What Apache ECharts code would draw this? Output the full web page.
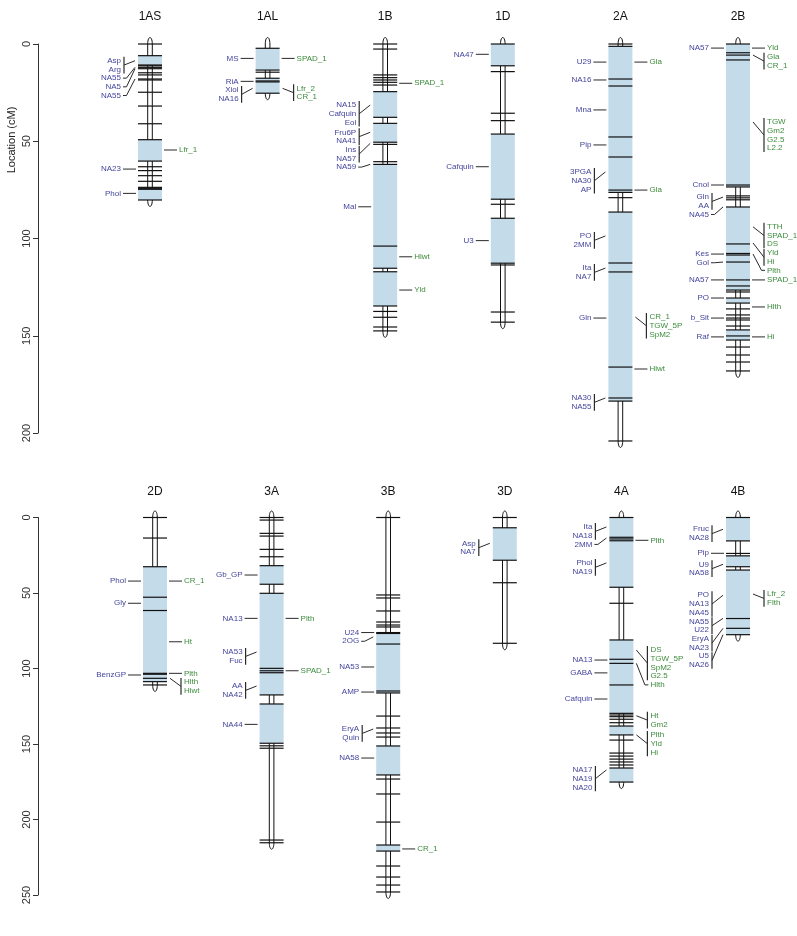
<!DOCTYPE html>
<html><head><meta charset="utf-8">
<script src="https://cdn.jsdelivr.net/npm/echarts/dist/echarts.min.js"></script>
<style>html,body{margin:0;padding:0;background:#fff}#c{width:797px;height:936px}</style>
</head><body><div id="c"></div>
<script>
// ---------- DATA ----------
const CHR_TOP = ['1AS','1AL','1B','1D','2A','2B'];
const CHR_BOT = ['2D','3A','3B','3D','4A','4B'];
const TICKS_TOP = [0,50,100,150,200];
const TICKS_BOT = [0,50,100,150,200,250];

// markers (cM), highlighted blocks [start,end], left labels [pos, names...], right labels
const m_1AS = [0,6.0,10.8,11.2,12.0,12.7,14.8,15.9,18.0,18.5,24.8,31.9,41.0,49.2,60.2,63.1,65.1,67.7,70.6,73.7,74.2,74.7,80.2];
const b_1AS = [[6.0,10.8],[49.2,60.2],[74.2,80.2]];
const l_1AS = [[8.6,'Asp','Arg'],[12.0,'NA55'],[12.7,'NA5'],[18.0,'NA55'],[64.3,'NA23'],[76.8,'Phol']];
const r_1AS = [[54.5,'Lfr_1']];

const m_1AL = [2.2,13.4,14.5,17.6,19.0,19.5,25.3];
const b_1AL = [[2.2,13.4],[17.6,25.3]];
const l_1AL = [[7.4,'MS'],[19.2,'RiA'],[22.8,'Xiol','NA16']];
const r_1AL = [[7.4,'SPAD_1'],[22.8,'Lfr_2','CR_1']];

const m_1B = [0,2.6,15.9,17.3,18.5,19.7,21.1,24.5,37.7,40.8,50.5,51.6,60.5,61.9,103.9,115.3,117.1,134.7,137.5,140.5,145.5,147.5];
const b_1B = [[24.5,37.7],[40.8,50.5],[61.9,115.3],[117.1,134.7]];
const l_1B = [[31.4,'NA15','Cafquin','Eol'],[45.4,'Fru6P','NA41'],[51.1,'Ins','NA57'],[61.9,'NA59'],[83.7,'Mal']];
const r_1B = [[20.2,'SPAD_1'],[109.4,'Hlwt'],[126.5,'Yld']];

const m_1D = [0,11.2,14.2,35.6,39.4,46.3,79.8,82.4,89.6,112.7,113.6,137.8,143.0];
const b_1D = [[0,11.2],[46.3,79.8],[89.6,112.7]];
const l_1D = [[5.3,'NA47'],[63.1,'Cafquin'],[101.1,'U3']];
const r_1D = [];

const m_2A = [0,1.2,18.0,21.6,47.8,58.1,75.1,76.3,79.0,86.4,112.6,117.2,166.1,182.0,183.6,204.1];
const b_2A = [[1.2,76.3],[86.4,183.6]];
const l_2A = [[9.3,'U29'],[18.5,'NA16'],[33.9,'Mna'],[51.9,'Pip'],[65.8,'3PGA','NA30','AP'],[98.7,'PO','2MM'],[115.2,'Ita','NA7'],[140.9,'Gln'],[182.0,'NA30','NA55']];
const r_2A = [[9.3,'Gla'],[75.1,'Gla'],[140.4,'CR_1','TGW_5P','SpM2'],[167.1,'Hlwt']];

const m_2B = [0,4.5,5.7,8.2,72.5,73.5,78.1,79.1,80.1,83.8,102.8,107.7,108.5,112.1,121.3,124.4,126.5,127.5,130.6,133.2,136.2,139.3,140.9,141.9,145.0,147.0,150.1,152.2,155.8,159.9,163.5,168.1];
const b_2B = [[0,73.5],[83.8,126.5],[130.6,133.2],[147.0,152.2]];
const l_2B = [[2.1,'NA57'],[72.5,'Cnol'],[78.7,'Gln','AA'],[83.8,'NA45'],[108,'Kes'],[112.1,'Gol'],[121.3,'NA57'],[130.6,'PO'],[140.9,'b_Sit'],[150.6,'Raf']];
const r_2B = [[2.1,'Yld'],[5.7,'Gla','CR_1'],[40.1,'TGW','Gm2','G2.5','L2.2'],[94.0,'TTH','SPAD_1','DS'],[102.3,'Yld','Hi'],[108,'Plth'],[121.3,'SPAD_1'],[135.2,'Hlth'],[150.6,'Hi']];

const m_2D = [0,13.6,32.6,52.8,61.6,103.2,103.8,106.5,108.7,110.9];
const b_2D = [[32.6,108.7]];
const l_2D = [[42.1,'Phol'],[56.8,'Gly'],[104.3,'BenzGP']];
const r_2D = [[42.1,'CR_1'],[82.3,'Ht'],[103.2,'Plth'],[106.5,'Hlth','Hlwt']];

const m_3A = [0,1.7,10.5,12.3,21.1,26.0,31.9,44.2,50.2,99.9,101.5,102.8,117.5,123.5,149.5,151.2,152.8,213.6,215.4];
const b_3A = [[31.9,44.2],[50.2,117.5],[123.5,149.5]];
const l_3A = [[38.1,'Gb_GP'],[66.8,'NA13'],[89.1,'NA53','Fuc'],[111.6,'AA','NA42'],[137.0,'NA44']];
const r_3A = [[66.8,'Plth'],[101.5,'SPAD_1']];

const m_3B = [0,51.3,53.3,61.9,69.2,71.2,72.5,76.2,76.8,83.8,114.9,116.2,131.5,139.4,142.7,145.4,151.3,170.5,173.2,183.1,201.7,216.9,220.9,230.8,238.1,243.4,248.0];
const b_3B = [[76.2,116.2],[151.3,170.5],[216.9,220.9]];
const l_3B = [[76.2,'U24'],[79.1,'2OG'],[99.0,'NA53'],[115.6,'AMP'],[140.1,'EryA','Quin'],[159.3,'NA58']];
const r_3B = [[219.5,'CR_1']];

const m_3D = [0,6.8,28.3,43.2,83.3];
const b_3D = [[6.8,28.3]];
const l_3D = [[17.1,'Asp','NA7']];
const r_3D = [];

const m_4A = [0,13.1,14.2,15.4,46.2,56.8,81.1,93.9,96.6,110.9,129.7,130.8,131.9,133.6,135.9,138.1,144.0,147.4,156.0,158.0,160.0,161.9,163.9,165.9,175.2];
const b_4A = [[0,46.2],[81.1,129.7],[138.1,144.0],[165.9,175.2]];
const l_4A = [[6.3,'Ita','NA18'],[13.6,'2MM'],[30.1,'Phol','NA19'],[94.4,'NA13'],[102.9,'GABA'],[120.2,'Cafquin'],[167.2,'NA17','NA19','NA20']];
const r_4A = [[15.1,'Plth'],[87.8,'DS','TGW_5P','SpM2','G2.5'],[96.6,'Hlth'],[131.3,'Ht','Gm2'],[144.0,'Plth','Yld','Hi']];

const m_4B = [0,15.5,23.8,25.4,32.6,34.8,66.9,73.4,77.6];
const b_4B = [[0,15.5],[25.4,32.6],[34.8,77.6]];
const l_4B = [[7.8,'Fruc','NA28'],[23.7,'Pip'],[31.0,'U9','NA58'],[51.5,'PO','NA13','NA45'],[66.8,'NA55','U22'],[73.4,'EryA','NA23'],[77.6,'U5','NA26']];
const r_4B = [[50.7,'Lfr_2','Flth']];

// ---------- BUILD ----------
const SRC = {
  '1AS':[m_1AS,b_1AS,l_1AS,r_1AS],'1AL':[m_1AL,b_1AL,l_1AL,r_1AL],'1B':[m_1B,b_1B,l_1B,r_1B],
  '1D':[m_1D,b_1D,l_1D,r_1D],'2A':[m_2A,b_2A,l_2A,r_2A],'2B':[m_2B,b_2B,l_2B,r_2B],
  '2D':[m_2D,b_2D,l_2D,r_2D],'3A':[m_3A,b_3A,l_3A,r_3A],'3B':[m_3B,b_3B,l_3B,r_3B],
  '3D':[m_3D,b_3D,l_3D,r_3D],'4A':[m_4A,b_4A,l_4A,r_4A],'4B':[m_4B,b_4B,l_4B,r_4B]
};
function chrList(names){
  return names.map(n => { const s = SRC[n]; return {name:n, markers:s[0], boxes:s[1], left:s[2], right:s[3], len:Math.max.apply(null,s[0])}; });
}
const TOP = chrList(CHR_TOP), BOT = chrList(CHR_BOT);

const LH = 8.7, FONT = '8px "Liberation Sans", Arial, sans-serif';
const COL_L = '#45459d', COL_R = '#3d8c3d', BOXC = '#c4dbea', INK = '#111', PTR = '#2a2a2a';

function makeRender(list){
  return function(params, api){
    const i = params.dataIndex, c = list[i];
    const cx = api.coord([i, 0])[0];
    const Y = v => api.coord([i, v])[1];
    const kids = [];
    const hw = 2.3, cap = 6.5;
    const y0 = Y(0), y1 = Y(c.len);
    const p = `M${cx-hw} ${y0} C${cx-hw} ${y0-cap*0.7} ${cx-1} ${y0-cap} ${cx} ${y0-cap} C${cx+1} ${y0-cap} ${cx+hw} ${y0-cap*0.7} ${cx+hw} ${y0} L${cx+hw} ${y1} C${cx+hw} ${y1+cap*0.7} ${cx+1} ${y1+cap} ${cx} ${y1+cap} C${cx-1} ${y1+cap} ${cx-hw} ${y1+cap*0.7} ${cx-hw} ${y1} Z`;
    kids.push({type:'path', shape:{pathData:p}, style:{fill:'#fff', stroke:INK, lineWidth:1}});
    c.boxes.forEach(bx => kids.push({type:'rect', shape:{x:cx-12, y:Y(bx[0]), width:24, height:Y(bx[1])-Y(bx[0])}, style:{fill:BOXC}}));
    c.markers.forEach(m => { const y = Y(m); kids.push({type:'line', shape:{x1:cx-12,y1:y,x2:cx+12,y2:y}, style:{stroke:INK, lineWidth:1.2}}); });
    [[c.left,-1,COL_L],[c.right,1,COL_R]].forEach(side => {
      const groups = side[0], s = side[1], col = side[2];
      let prev = -Infinity;
      groups.slice().sort((a,b)=>a[0]-b[0]).forEach(g => {
        const my = Y(g[0]); const names = g.slice(1);
        const first = Math.max(my, prev + LH);
        const ys = names.map((n,k)=> first + k*LH);
        prev = ys[ys.length-1];
        names.forEach((n,k) => kids.push({type:'text', style:{text:n, x:cx+s*29, y:ys[k], align:s<0?'right':'left', textAlign:s<0?'right':'left', verticalAlign:'middle', textVerticalAlign:'middle', fill:col, font:FONT}}));
        if (names.length === 1){
          const ty = ys[0];
          const pts = Math.abs(ty-my) < 0.6 ? [[cx+s*27,ty],[cx+s*14,my]] : [[cx+s*27,ty],[cx+s*23.5,ty],[cx+s*15,my]];
          kids.push({type:'polyline', shape:{points:pts}, style:{stroke:PTR, lineWidth:1, fill:null}});
        } else {
          const bxx = cx + s*26;
          kids.push({type:'line', shape:{x1:bxx,y1:ys[0]-4,x2:bxx,y2:ys[ys.length-1]+4}, style:{stroke:PTR, lineWidth:1.2}});
          const mid = (ys[0]+ys[ys.length-1])/2;
          kids.push({type:'line', shape:{x1:bxx,y1:mid,x2:cx+s*15,y2:my}, style:{stroke:PTR, lineWidth:1}});
        }
      });
    });
    return {type:'group', children:kids};
  };
}

function yAx(gi, max, offset){
  return {type:'value', gridIndex:gi, inverse:true, min:0, max:max, interval:50, position:'left', offset:offset,
    axisLine:{show:true, lineStyle:{color:'#333', width:1}}, axisTick:{show:true, length:5, lineStyle:{color:'#333'}},
    axisLabel:{rotate:90, margin:6, fontSize:11, color:'#333', fontFamily:'"Liberation Sans", Arial, sans-serif'},
    splitLine:{show:false}};
}
function xAx(gi, names, margin){
  return {type:'category', gridIndex:gi, data:names, position:'top', boundaryGap:true,
    axisLine:{show:false}, axisTick:{show:false},
    axisLabel:{margin:margin, fontSize:12, color:'#111', fontFamily:'"Liberation Sans", Arial, sans-serif'}};
}

const chart = echarts.init(document.getElementById('c'), null, {renderer:'canvas'});
chart.setOption({
  animation:false,
  backgroundColor:'#fff',
  grid:[
    {left:91.2, width:705.6, top:44, height:389},
    {left:96.7, width:699.6, top:517.5, height:377.5}
  ],
  xAxis:[xAx(0, CHR_TOP, 21), xAx(1, CHR_BOT, 20)],
  yAxis:[yAx(0, TICKS_TOP[TICKS_TOP.length-1], 53.2), yAx(1, TICKS_BOT[TICKS_BOT.length-1], 58.7)],
  graphic:[{type:'text', x:12, y:140, rotation:Math.PI/2, style:{text:'Location (cM)', textAlign:'center', textVerticalAlign:'middle', align:'center', verticalAlign:'middle', fill:'#222', font:'11px "Liberation Sans", Arial, sans-serif'}}],
  series:[
    {type:'custom', xAxisIndex:0, yAxisIndex:0, clip:false, silent:true, renderItem:makeRender(TOP), data:TOP.map((c,i)=>[i,0])},
    {type:'custom', xAxisIndex:1, yAxisIndex:1, clip:false, silent:true, renderItem:makeRender(BOT), data:BOT.map((c,i)=>[i,0])}
  ]
});
</script></body></html>
